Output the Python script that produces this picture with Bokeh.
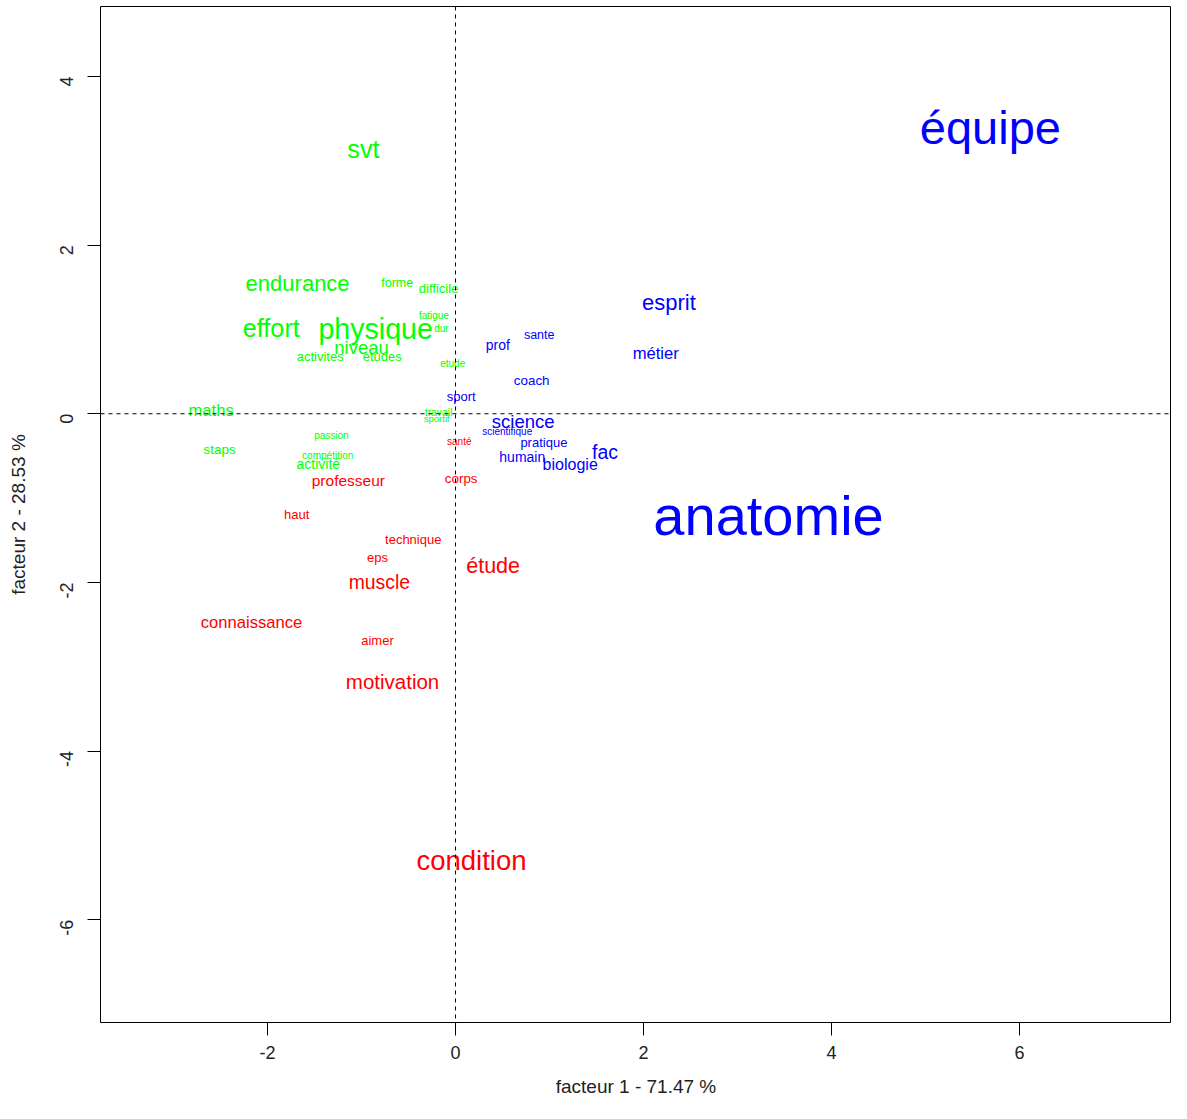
import math
from bokeh.plotting import figure
from bokeh.models import ColumnDataSource, Span, FixedTicker
from bokeh.core.properties import value
from bokeh.embed import file_html
from bokeh.resources import INLINE

# ---- data ----
mots = [
    # groupe 2 (vert)
    "svt", "endurance", "forme", "difficile", "fatigue", "dur", "effort", "physique",
    "niveau", "activites", "etudes", "etude", "maths", "travail", "sportif", "passion",
    "staps", "compétition", "activité",
    # groupe 1 (rouge)
    "santé", "corps", "professeur", "haut", "technique", "eps", "étude", "muscle",
    "connaissance", "aimer", "motivation", "condition",
    # groupe 3 (bleu)
    "équipe", "esprit", "sante", "prof", "métier", "coach", "sport", "science",
    "scientifique", "pratique", "fac", "humain", "biologie", "anatomie",
]
facteur1 = [
    -0.98, -1.68, -0.62, -0.18, -0.23, -0.15, -1.96, -0.85,
    -1.00, -1.44, -0.78, -0.03, -2.60, -0.18, -0.20, -1.32,
    -2.51, -1.36, -1.46,
    0.04, 0.06, -1.14, -1.69, -0.45, -0.83, 0.40, -0.81,
    -2.17, -0.83, -0.67, 0.17,
    5.69, 2.27, 0.89, 0.45, 2.13, 0.81, 0.06, 0.72,
    0.55, 0.94, 1.59, 0.71, 1.22, 3.33,
]
facteur2 = [
    3.14, 1.55, 1.55, 1.48, 1.17, 1.01, 1.02, 1.01,
    0.79, 0.68, 0.68, 0.60, 0.04, 0.02, -0.06, -0.26,
    -0.42, -0.49, -0.60,
    -0.33, -0.77, -0.79, -1.19, -1.49, -1.71, -1.81, -1.99,
    -2.47, -2.69, -3.17, -5.30,
    3.39, 1.32, 0.93, 0.81, 0.71, 0.39, 0.21, -0.09,
    -0.21, -0.34, -0.45, -0.51, -0.60, -1.21,
]
groupe = [2] * 19 + [1] * 12 + [3] * 14
cex = [
    2.1, 1.83, 1.04, 1.08, 0.83, 0.83, 2.1, 2.38,
    1.54, 1.08, 1.08, 0.83, 1.38, 0.87, 0.79, 0.83,
    1.12, 0.83, 1.17,
    0.83, 1.12, 1.29, 1.08, 1.08, 1.08, 1.79, 1.62,
    1.38, 1.08, 1.71, 2.29,
    3.92, 1.83, 1.04, 1.17, 1.38, 1.12, 1.08, 1.54,
    0.83, 1.08, 1.62, 1.17, 1.33, 4.67,
]
pct_f1 = 71.47
pct_f2 = 28.53
x_ticks = [-2, 0, 2, 4, 6]
y_ticks = [-6, -4, -2, 0, 2, 4]

# ---- styles ----
couleurs = {1: "#FF0000", 2: "#00FF00", 3: "#0000FF"}
base_px = 12.0

src = ColumnDataSource(dict(
    x=facteur1,
    y=facteur2,
    mot=mots,
    couleur=[couleurs[g] for g in groupe],
    taille=["%.1fpx" % (c * base_px) for c in cex],
))

p = figure(
    width=1171, height=1103,
    x_range=(-3.777, 7.617), y_range=(-7.22, 4.83),
    output_backend="svg", toolbar_location=None,
    min_border_left=100, min_border_top=6, min_border_right=0, min_border_bottom=81,
    background_fill_color="white", border_fill_color="white",
)
p.outline_line_color = "black"
p.outline_line_width = 1
p.xgrid.visible = False
p.ygrid.visible = False

p.add_layout(Span(location=0, dimension="height", line_color="black",
                  line_dash="4 4", line_width=1))
p.add_layout(Span(location=0, dimension="width", line_color="black",
                  line_dash="4 4", line_width=1))

p.text(x="x", y="y", text="mot", source=src, text_color="couleur",
       text_font_size="taille", text_align="center", text_baseline="middle",
       text_font=value("Liberation Sans"))

for ax, ticks in ((p.xaxis[0], x_ticks), (p.yaxis[0], y_ticks)):
    ax.ticker = FixedTicker(ticks=ticks)
    ax.bounds = (min(ticks), max(ticks))
    ax.major_label_overrides = {t: str(t) for t in ticks}
    ax.minor_tick_line_color = None
    ax.major_tick_in = 0
    ax.major_tick_out = 13
    ax.axis_line_color = "black"
    ax.major_tick_line_color = "black"
    ax.major_label_text_font = "Liberation Sans"
    ax.major_label_text_font_size = "18px"
    ax.major_label_text_color = "#222222"
    ax.axis_label_text_font = "Liberation Sans"
    ax.axis_label_text_font_size = "19px"
    ax.axis_label_text_font_style = "normal"
    ax.axis_label_text_color = "#222222"

p.xaxis.axis_label = "facteur 1 - %.2f %%" % pct_f1
p.yaxis.axis_label = "facteur 2 - %.2f %%" % pct_f2
p.xaxis.major_label_standoff = 10
p.xaxis.axis_label_standoff = 14
p.yaxis.major_label_standoff = 21
p.yaxis.major_label_orientation = math.pi / 2
p.yaxis.axis_label_standoff = 22

open("out.html", "w").write(file_html(p, INLINE))
